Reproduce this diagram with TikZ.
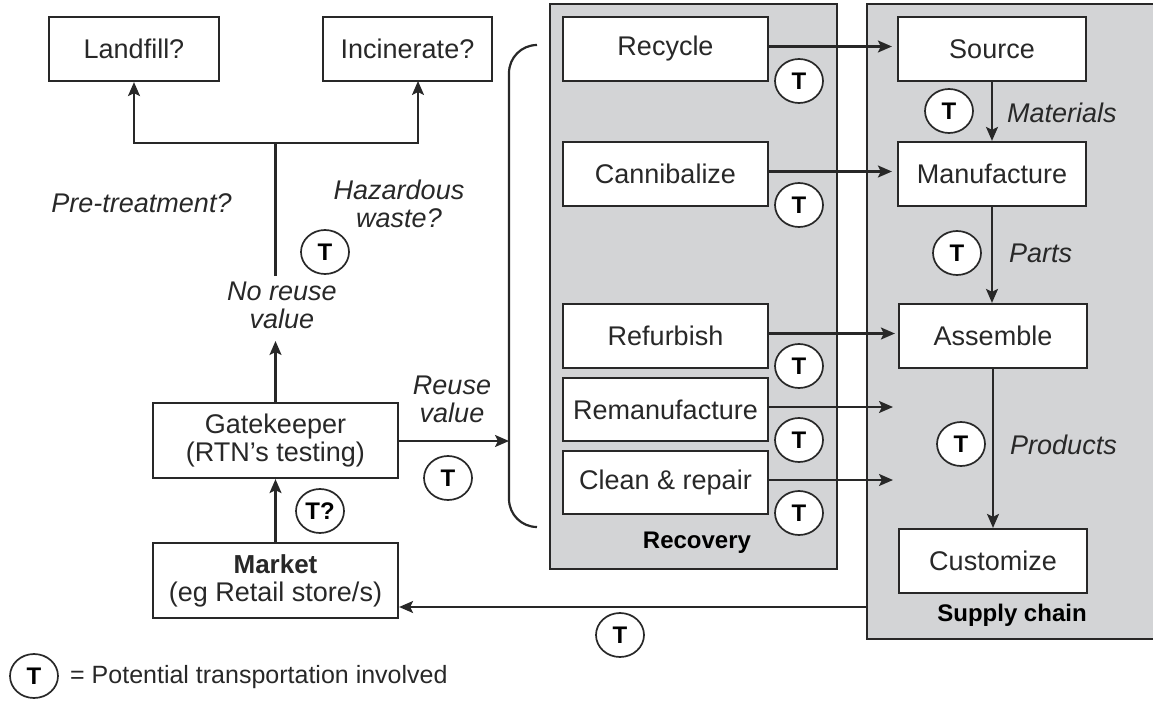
\documentclass[tikz,border=0pt]{standalone}
\usepackage{fontspec}
\setmainfont{Liberation Sans}
\usetikzlibrary{arrows.meta,shapes.geometric}
\definecolor{panelgray}{RGB}{211,212,214}
\definecolor{ink}{RGB}{40,40,40}
\begin{document}
\begin{tikzpicture}[x=1pt,y=-1pt,
  box/.style={draw=ink, line width=2.2pt, fill=white, minimum height=64pt,
    inner sep=0pt, align=center, text=ink, font=\fontsize{27}{28}\selectfont},
  tcirc/.style={ellipse, draw=ink, line width=1.7pt, fill=white,
    minimum width=48pt, minimum height=44pt, inner sep=0pt, text=black,
    font=\fontsize{24}{24}\selectfont\bfseries},
  lab/.style={font=\fontsize{27}{28}\selectfont\itshape, text=ink,
    align=center, inner sep=0pt},
  conn/.style={draw=ink, line width=2.2pt},
  arr/.style={conn, -{Stealth[length=14pt,width=12pt,inset=3pt]}},
  panel/.style={fill=panelgray, draw=ink, line width=2.2pt},
  paneltitle/.style={font=\fontsize{24}{28}\selectfont\bfseries, text=black, inner sep=0pt},
]
\useasboundingbox (0,0) rectangle (1153,701);

% grey panels
\path[panel] (550,4) rectangle (837,569);
\fill[panelgray] (867,4) rectangle (1153,639);
\draw[ink, line width=2.2pt] (1153,4) -- (867,4) -- (867,639) -- (1153,639);
\node[paneltitle] (rectitle) at (697,543) {Recovery};
\node[paneltitle] (sctitle) at (1012,615) {Supply chain};

% disposal options
\node[box, minimum width=170pt] (landfill) at (134,49) {Landfill?};
\node[box, minimum width=169pt] (incin) at (407.5,49) {Incinerate?};

% gatekeeper and market
\node[box, minimum width=245pt, minimum height=75pt] (gate) at (275.5,440.5)
  {Gatekeeper\\(RTN’s testing)};
\node[box, minimum width=245pt, minimum height=75pt] (market) at (275.5,580.5)
  {{\fontsize{26}{28}\selectfont\bfseries Market}\\(eg Retail store/s)};

% recovery options
\node[box, minimum width=205pt] (recycle) at (665.5,49) {Recycle};
\node[box, minimum width=205pt] (cannib) at (665.5,174) {Cannibalize};
\node[box, minimum width=205pt] (refurb) at (665.5,336) {Refurbish};
\node[box, minimum width=205pt, minimum height=63pt] (reman) at (665.5,409.5) {Remanufacture};
\node[box, minimum width=205pt, minimum height=63pt] (clean) at (665.5,482.5) {Clean \& repair};

% supply chain stages
\node[box, minimum width=188pt] (source) at (992,49) {Source};
\node[box, minimum width=188pt] (manuf) at (992,174) {Manufacture};
\node[box, minimum width=188pt] (assemble) at (993,336) {Assemble};
\node[box, minimum width=188pt] (custom) at (993,561) {Customize};

% italic labels
\node[lab] (pretreat) at (141.5,203) {Pre-treatment?};
\node[lab] (hazard) at (399,204) {Hazardous\\waste?};
\node[lab] (noreuse) at (282,305) {No reuse\\value};
\node[lab] (reuse) at (452,399) {Reuse\\value};
\node[lab, anchor=west] (materials) at (1007,113) {Materials};
\node[lab, anchor=west] (parts) at (1009,253) {Parts};
\node[lab, anchor=west] (products) at (1010,445) {Products};

% helper points
\coordinate (split) at (275.5,143);
\coordinate (nrtop) at (275.5,276);
\coordinate (nrbot) at (275.5,341);
\coordinate (incarr) at (418,81);
\coordinate (brk) at (509,441);
\coordinate (remanend) at (893,407);
\coordinate (cleanend) at (893,480);
\coordinate (scl) at (867,607);

% disposal branch
\draw[arr] (gate.north) -- (nrbot);
\draw[conn] (nrtop) -- (split);
\draw[arr] (split) -| (landfill.south);
\draw[arr] (split) -| (incarr);

% reuse branch
\draw[arr] (market.north) -- (gate.south);
\draw[arr] (gate.east |- brk) -- (brk);
\draw[conn, rounded corners=28pt] (537,45) -- (509,45) -- (509,527) -- (537,527);

% recovery into supply chain
\draw[arr, shorten >=5pt] ([yshift=2.5pt]recycle.east) -- ([yshift=2.5pt]recycle.east -| source.west);
\draw[arr, shorten >=5pt] ([yshift=2.5pt]cannib.east) -- ([yshift=2.5pt]cannib.east -| manuf.west);
\draw[arr, shorten >=3pt] ([yshift=2.5pt]refurb.east) -- ([yshift=2.5pt]refurb.east -| assemble.west);
\draw[arr] ([yshift=2.5pt]reman.east) -- (remanend);
\draw[arr] ([yshift=2.5pt]clean.east) -- (cleanend);

% supply chain flow
\draw[arr] (source.south) -- (manuf.north);
\draw[arr] (manuf.south) -- (manuf.south |- assemble.north);
\draw[arr] (assemble.south) -- (custom.north);
\draw[arr] (scl) -- (scl -| market.east);

% transport markers
\node[tcirc] (twaste) at (325,252) {T};
\node[tcirc] (treuse) at (448,478) {T};
\node[tcirc] (tmarket) at (320,511) {T?};
\node[tcirc] (treturn) at (620,635) {T};
\node[tcirc] (trecycle) at (799,81) {T};
\node[tcirc] (tcannib) at (799,205) {T};
\node[tcirc] (trefurb) at (799,366) {T};
\node[tcirc] (treman) at (799,440) {T};
\node[tcirc] (tclean) at (799,513) {T};
\node[tcirc] (tmat) at (949,111) {T};
\node[tcirc] (tparts) at (957,253) {T};
\node[tcirc] (tprod) at (961,444) {T};

% legend
\node[tcirc] (tleg) at (34,676) {T};
\node[anchor=west, inner sep=0pt, text=ink, font=\fontsize{25}{28}\selectfont] (legtext) at (70,677)
  {= Potential transportation involved};
\end{tikzpicture}
\end{document}
